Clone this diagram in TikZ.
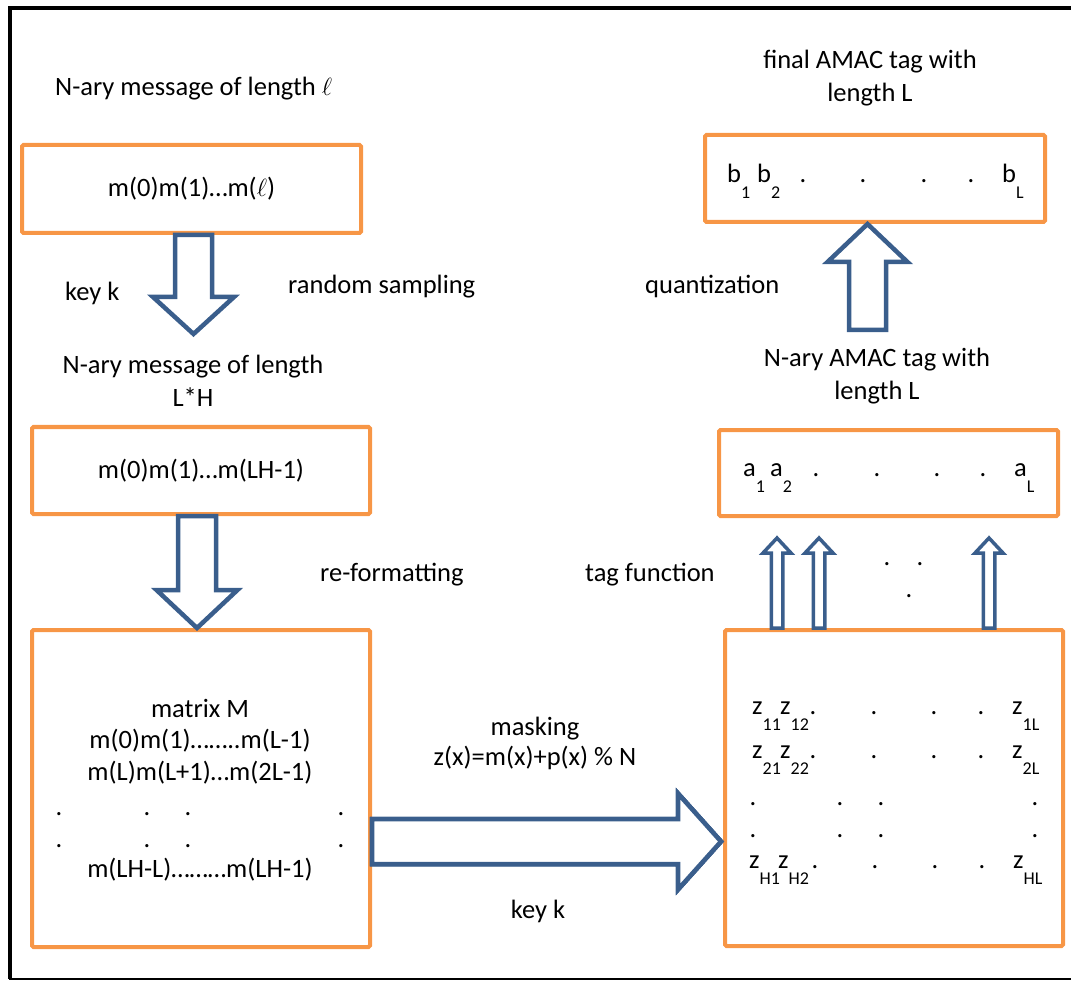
\documentclass[tikz,border=0pt]{standalone}
\usepackage{fontspec}
\setmainfont{Carlito}
\usetikzlibrary{calc}

\definecolor{boxorange}{HTML}{F79646}
\definecolor{arrowblue}{HTML}{3A5E8C}

% letter with a low index, as in b_1
\newcommand{\tagel}[2]{#1\raisebox{-16pt}{\fontsize{18}{18}\selectfont #2}}
% vertical block arrow: style, start, tip, half shaft, half head, head length (signed)
\newcommand{\blockv}[6]{%
  \draw[#1] let \p1=(#2), \p2=(#3) in
    ({\x1-#4pt},\y1) -- ({\x1-#4pt},{\y2+#6pt}) -- ({\x1-#5pt},{\y2+#6pt}) -- (\x1,\y2)
    -- ({\x1+#5pt},{\y2+#6pt}) -- ({\x1+#4pt},{\y2+#6pt}) -- ({\x1+#4pt},\y1) -- cycle;}

\begin{document}
\begin{tikzpicture}[
    x=1pt, y=-1pt,
    font=\fontsize{26.5}{33}\selectfont,
    stagebox/.style={draw=boxorange, line width=4pt, rounded corners=1.5pt, inner sep=0pt, minimum width=339pt},
    txt/.style={inner sep=0pt, anchor=base},
    lefttxt/.style={inner sep=0pt, anchor=base west},
    twoline/.style={inner sep=0pt, align=center},
    blockarrow/.style={draw=arrowblue, line width=4.5pt, fill=white, line join=miter},
    thinarrow/.style={draw=arrowblue, line width=3.5pt, fill=white, line join=miter},
    frame/.style={draw=black, line width=4.5pt}
]

\useasboundingbox (0,0) rectangle (1071,981);

% outer frame
\draw[frame] (10,979) -- (10,8) -- (1075,8);
\draw[black, line width=2pt] (9,979) -- (1075,979);

% left column: message, sampled message, matrix
\node[lefttxt] (inlabel) at (55,96) {N-ary message of length $\ell$};
\node[stagebox, minimum height=88pt] (msg) at (191.5,189) {m(0)m(1)…m($\ell$)};
\node[lefttxt] (keyA) at (65,301) {key k};
\node[lefttxt] (sampling) at (288,294) {random sampling};
\node[twoline] (lhlabel) at (193,381) {N-ary message of length\\L*H};
\node[stagebox, minimum width=338pt, minimum height=87pt] (lhmsg) at (201,470.5) {m(0)m(1)…m(LH-1)};
\node[lefttxt] (reformat) at (320,581) {re-formatting};
\node[stagebox, minimum width=338pt, minimum height=317pt] (mat) at (201,788.5) {};

\node[txt] (matM) at (200,717) {matrix M};
\node[txt] (row1) at (200,748) {m(0)m(1)……..m(L-1)};
\node[txt] (row2) at (200,780) {m(L)m(L+1)…m(2L-1)};
\node[txt] (rowLH) at (200,877) {m(LH-L)………m(LH-1)};
\foreach \dy [count=\j] in {815,847}
  \foreach \dx [count=\i] in {59,147,188,341}
    \node[txt] (mdot\j\i) at (\dx,\dy) {.};

% masking
\node[txt] (masking) at (535,735) {masking};
\node[txt] (formula) at (535,765) {z(x)=m(x)+p(x) \% N};
\node[txt] (keyB) at (538,918) {key k};

% right column: masked matrix, tag, final tag
\node[stagebox, minimum width=338pt, minimum height=316pt] (zbox) at (894,788) {};
\foreach \r/\y/\xa/\xb/\xc in {1/714/752/780/1012, 2/758/752/780/1012, H/868/749/778/1013} {
  \node[lefttxt] (z\r1) at (\xa,\y) {\tagel{z}{\r1}};
  \node[lefttxt] (z\r2) at (\xb,\y) {\tagel{z}{\r2}};
  \node[lefttxt] (z\r L) at (\xc,\y) {\tagel{z}{\r L}};
}
\foreach \y/\r in {714/1,758/2}
  \foreach \dx [count=\i] in {813,874,934,981}
    \node[txt] (zdot\r\i) at (\dx,\y) {.};
\foreach \dx [count=\i] in {815,875,935,982}
  \node[txt] (zdotH\i) at (\dx,868) {.};
\foreach \dy [count=\j] in {805,837}
  \foreach \dx [count=\i] in {753,840,881,1035}
    \node[txt] (zmid\j\i) at (\dx,\dy) {.};

\node[lefttxt] (tagfun) at (585,581) {tag function};
\node[stagebox, minimum height=86pt] (tagA) at (888.5,473) {};
\node[lefttxt] (a1) at (743,476) {\tagel{a}{1}};
\node[lefttxt] (a2) at (770,476) {\tagel{a}{2}};
\node[lefttxt] (aL) at (1014,476) {\tagel{a}{L}};
\foreach \dx [count=\i] in {816,877,937,983}
  \node[txt] (adot\i) at (\dx,476) {.};
\node[txt] (gapdot1) at (887,565) {.};
\node[txt] (gapdot2) at (920,565) {.};
\node[txt] (gapdot3) at (909,597) {.};
\node[twoline] (taglabel) at (877,376) {N-ary AMAC tag with\\length L};

\node[lefttxt] (quant) at (645,294) {quantization};
\node[stagebox, minimum width=340pt, minimum height=87pt] (final) at (875,178.5) {};
\node[lefttxt] (b1) at (727,183) {\tagel{b}{1}};
\node[lefttxt] (b2) at (757,183) {\tagel{b}{2}};
\node[lefttxt] (bL) at (1002,183) {\tagel{b}{L}};
\foreach \dx [count=\i] in {803,863,924,971}
  \node[txt] (bdot\i) at (\dx,183) {.};
\node[twoline] (finallabel) at (870,78) {final AMAC tag with\\length L};

% block arrows
\coordinate (sampleTip) at (193.5,334);
\coordinate (quantBase) at (867.5,330);
\blockv{blockarrow}{$(msg.south)+(2,0)$}{sampleTip}{18.5}{40.5}{37}
\blockv{blockarrow}{$(lhmsg.south)+(-4,0)$}{mat.north}{19}{40.5}{38}
\blockv{blockarrow}{quantBase}{final.south}{18.5}{40}{-38}
\foreach \ax in {777,819,989}
  \blockv{thinarrow}{zbox.north -| \ax,0}{\ax,538}{5.75}{14}{-15}
\draw[blockarrow] let \p1=($(mat.east)+(0,53)$), \p2=(zbox.west) in
  (\x1,{\y1+22.5pt}) -- ({\x2-45pt},{\y1+22.5pt}) -- ({\x2-45pt},{\y1+48pt}) -- ({\x2-2pt},\y1)
  -- ({\x2-45pt},{\y1-48pt}) -- ({\x2-45pt},{\y1-22.5pt}) -- (\x1,{\y1-22.5pt}) -- cycle;

\end{tikzpicture}
\end{document}
